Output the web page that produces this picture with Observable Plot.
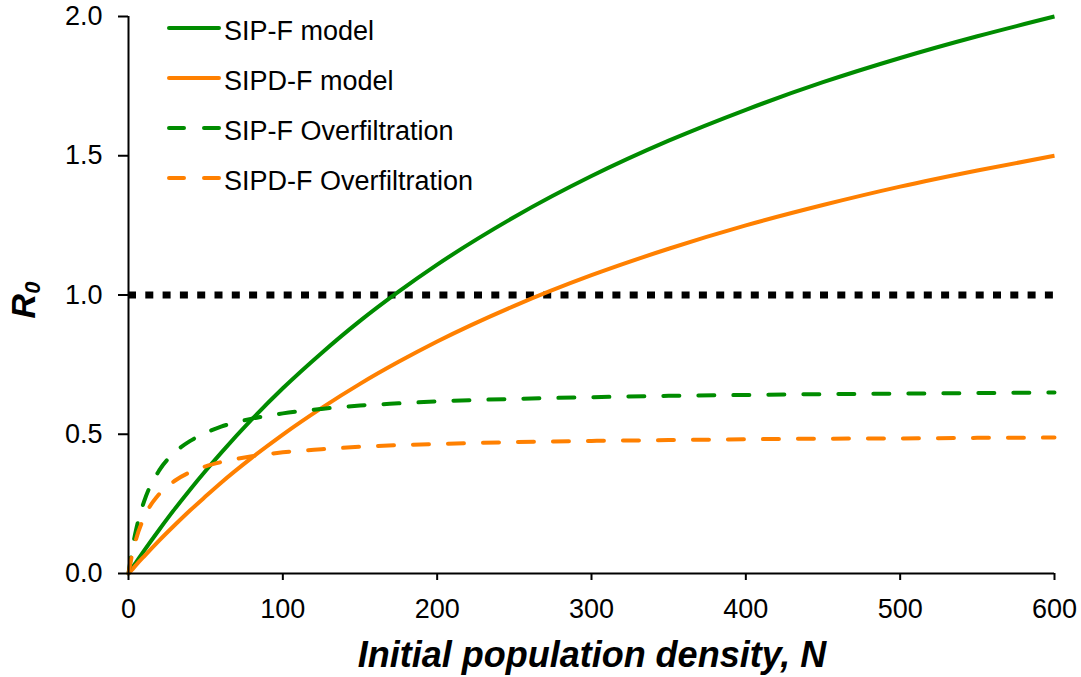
<!DOCTYPE html>
<html>
<head>
<meta charset="utf-8">
<script src="https://cdn.jsdelivr.net/npm/d3@7"></script>
<script src="https://cdn.jsdelivr.net/npm/@observablehq/plot@0.6"></script>
<style>
  body { margin: 0; background: #fff; }
  #wrap { position: relative; width: 1081px; height: 677px; font-family: "Liberation Sans", Arial, sans-serif; }
  #legend { position: absolute; left: 166px; top: 3px; }
  .lg { display: flex; align-items: center; height: 50px; font-size: 27px; color: #000; }
  .lg svg { margin-right: 2px; }
  .lg span { padding-top: 6px; }
</style>
</head>
<body>
<div id="wrap"></div>
<script>
// Initial population density N
const densities = [0, 2, 5, 10, 20, 30, 40, 50, 60, 80, 100, 125, 150, 175, 200, 250, 300, 350, 400, 450, 500, 550, 600];
// R0 values
const sipfModel = [0, 0.017, 0.041, 0.081, 0.158, 0.232, 0.302, 0.369, 0.433, 0.554, 0.665, 0.791, 0.907, 1.012, 1.109, 1.280, 1.427, 1.554, 1.665, 1.764, 1.851, 1.929, 2.000];
const sipdfModel = [0, 0.012, 0.031, 0.061, 0.119, 0.174, 0.227, 0.277, 0.326, 0.416, 0.499, 0.594, 0.681, 0.760, 0.833, 0.961, 1.071, 1.166, 1.250, 1.323, 1.389, 1.447, 1.500];
const sipfOver = [0, 0.074, 0.159, 0.257, 0.371, 0.435, 0.476, 0.505, 0.527, 0.556, 0.575, 0.591, 0.603, 0.611, 0.618, 0.627, 0.633, 0.638, 0.641, 0.644, 0.646, 0.648, 0.650];
const sipdfOver = [0, 0.059, 0.125, 0.200, 0.286, 0.333, 0.364, 0.385, 0.400, 0.421, 0.435, 0.446, 0.455, 0.461, 0.465, 0.472, 0.476, 0.479, 0.482, 0.484, 0.485, 0.487, 0.488];
const threshold = [1];
const xTicks = [0, 100, 200, 300, 400, 500, 600];
const yTicks = [0, 0.5, 1.0, 1.5, 2.0];

const seriesNames = ["SIP-F model", "SIPD-F model", "SIP-F Overfiltration", "SIPD-F Overfiltration"];
const seriesValues = [sipfModel, sipdfModel, sipfOver, sipdfOver];
const seriesColors = ["#008c00", "#ff8000", "#008c00", "#ff8000"];
const seriesDashed = [false, false, true, true];

const tables = seriesValues.map(vals => densities.map((n, i) => ({n, r: vals[i]})));

const marks = [
  Plot.ruleY(threshold, {stroke: "#000", strokeWidth: 7, strokeDasharray: "8,9.3"}),
];
tables.forEach((t, i) => {
  marks.push(Plot.line(t, {
    x: "n", y: "r", stroke: seriesColors[i], strokeWidth: 4, curve: "monotone-x",
    strokeDasharray: seriesDashed[i] ? "16,19" : null,
    strokeLinecap: seriesDashed[i] ? "round" : "butt"
  }));
});
marks.push(
  Plot.axisX({ticks: xTicks, tickSize: 7, tickPadding: 18, tickFormat: d => String(d), fontSize: 27, label: null, stroke: "#000", strokeWidth: 2}),
  Plot.axisY({ticks: yTicks, tickSize: 10, tickPadding: 16, tickFormat: d3.format(".1f"), fontSize: 27, label: null, stroke: "#000", strokeWidth: 2}),
  Plot.ruleX([0], {stroke: "#000", strokeWidth: 2}),
  Plot.ruleY([0], {stroke: "#000", strokeWidth: 2})
);

const chart = Plot.plot({
  width: 1081,
  height: 677,
  marginLeft: 128,
  marginRight: 27,
  marginTop: 16,
  marginBottom: 104,
  style: {fontFamily: "'Liberation Sans', Arial, sans-serif", color: "#000", background: "#fff", overflow: "visible"},
  x: {domain: [0, 600]},
  y: {domain: [0, 2]},
  marks
});

const svg = d3.select(chart);
svg.selectAll("[aria-label='x-axis tick label'] text, [aria-label='y-axis tick label'] text").attr("fill", "#000");

// Axis titles
svg.append("text")
  .attr("x", 592).attr("y", 667)
  .attr("text-anchor", "middle")
  .attr("font-size", 36).attr("font-weight", "bold").attr("font-style", "italic")
  .attr("font-family", "'Liberation Sans', Arial, sans-serif")
  .attr("fill", "#000")
  .text("Initial population density, N");

const yt = svg.append("text")
  .attr("transform", "translate(35,300) rotate(-90)")
  .attr("text-anchor", "middle")
  .attr("font-size", 34).attr("font-weight", "bold").attr("font-style", "italic")
  .attr("font-family", "'Liberation Sans', Arial, sans-serif")
  .attr("fill", "#000");
yt.append("tspan").text("R");
yt.append("tspan").attr("font-size", 22).attr("dy", 5).text("0");

const wrap = document.getElementById("wrap");
wrap.appendChild(chart);

// Legend
const legend = document.createElement("div");
legend.id = "legend";
seriesNames.forEach((name, i) => {
  const row = document.createElement("div");
  row.className = "lg";
  const dash = seriesDashed[i] ? 'stroke-dasharray="15,20" stroke-linecap="round"' : 'stroke-linecap="round"';
  row.innerHTML = `<svg width="56" height="10"><line x1="3" y1="5" x2="53" y2="5" stroke="${seriesColors[i]}" stroke-width="4" ${dash}/></svg><span>${name}</span>`;
  legend.appendChild(row);
});
wrap.appendChild(legend);
</script>
</body>
</html>
